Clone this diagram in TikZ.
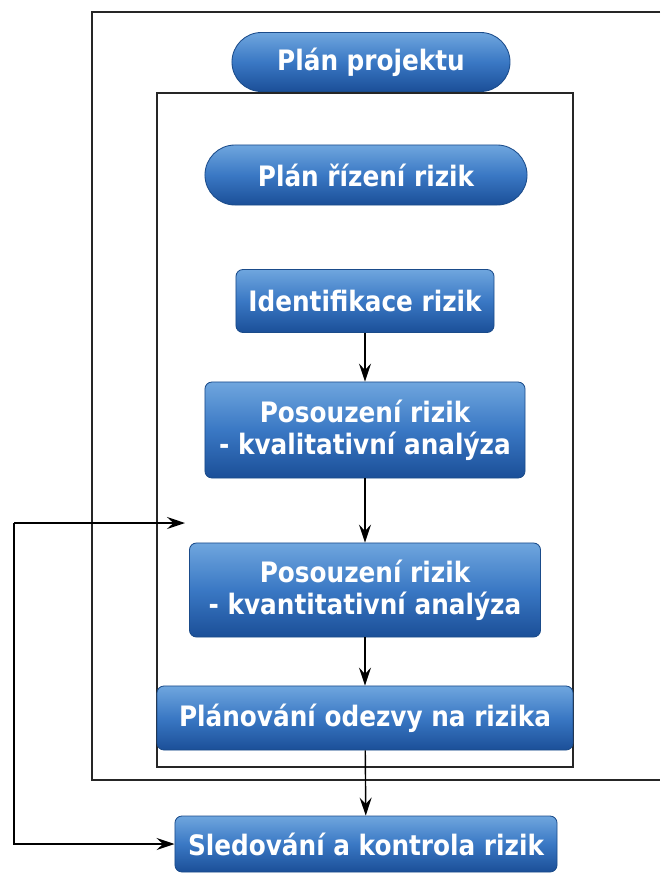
\documentclass[tikz,border=0pt]{standalone}
\usepackage{fontspec}
\setsansfont{DejaVu Sans}[FakeStretch=0.88]
\usetikzlibrary{
  arrows.meta,
  shapes.misc,
  positioning
}
\definecolor{rkTop}{HTML}{6FA6DE}
\definecolor{rkMid}{HTML}{3A78C4}
\definecolor{rkBottom}{HTML}{1B4F98}
\definecolor{rkEdge}{HTML}{1A4B8A}
\tikzset{
  rknode/.style={
    draw=rkEdge, top color=rkTop, bottom color=rkBottom, middle color=rkMid,
    text=white, font=\sffamily\bfseries\fontsize{20}{23}\selectfont,
    align=center, inner sep=0pt, line width=0.6pt
  },
  pill/.style={rknode, rounded rectangle},
  stepbox/.style={rknode, rounded corners=5pt},
  flow/.style={-{Stealth[length=4.5mm, width=3mm, inset=1.6mm]}, line width=1pt},
  frame/.style={line width=1pt, black!85}
}

\begin{document}
\begin{tikzpicture}[x=0.025cm, y=-0.025cm]
  \useasboundingbox (0,0) rectangle (660,874);
  % frames
  \draw[frame] (660,12) -- (92,12) -- (92,780) -- (660,780);
  \draw[frame] (157,93) rectangle (573,767);
  % steps
  \node[pill, minimum width=6.95cm, minimum height=1.475cm] (proj) at (371,62) {Plán projektu};
  \node[pill, minimum width=8.05cm, minimum height=1.5cm] (rizeni) at (366,175) {Plán řízení rizik};
  \node[stepbox, minimum width=6.45cm, minimum height=1.575cm] (ident) at (365,301) {Identifikace rizik};
  \node[stepbox, minimum width=8cm, minimum height=2.4cm] (kval) at (365,430) {Posouzení rizik\\- kvalitativní analýza};
  \node[stepbox, minimum width=8.775cm, minimum height=2.35cm] (kvant) at (365,590) {Posouzení rizik\\- kvantitativní analýza};
  \node[stepbox, minimum width=10.4cm, minimum height=1.6cm] (odezva) at (365,718) {Plánování odezvy na rizika};
  \node[stepbox, minimum width=9.55cm, minimum height=1.4cm] (sled) at (366,844) {Sledování a kontrola rizik};
  % arrows
  \draw[flow] (ident) -- (kval);
  \draw[flow] (kval) -- (kvant);
  \draw[flow] (kvant) -- (odezva);
  \draw[flow] (odezva) -- (sled);
  % feedback
  \coordinate (fbl) at (14,523);
  \coordinate (fb) at (185,523);
  \draw[flow] (fbl) -- (fb);
  \draw[flow] (fbl) |- (sled.west);
\end{tikzpicture}
\end{document}
